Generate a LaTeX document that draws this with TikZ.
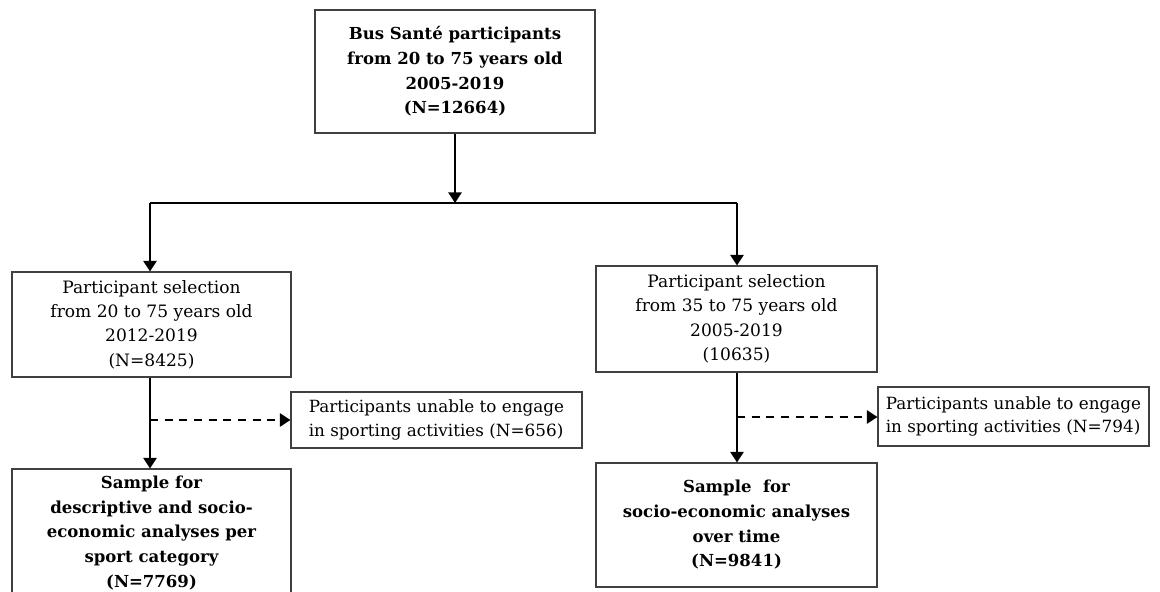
\documentclass[tikz,border=0pt]{standalone}
\usepackage{fontspec}
\setmainfont{DejaVu Serif}
\usetikzlibrary{arrows.meta}
\tikzset{
  box/.style={draw=black!75, line width=0.8pt, align=center, inner sep=0pt, font=\fontsize{12.8}{18.3}\selectfont},
  boldbox/.style={box, font=\fontsize{12.4}{18.5}\selectfont\bfseries},
  smallbox/.style={box, align=left, font=\fontsize{12.6}{17.5}\selectfont},
  conn/.style={line width=1.5pt, -{Triangle[length=8pt,width=10pt]}},
  dconn/.style={conn, dash pattern=on 6pt off 5pt},
  plain/.style={line width=1.5pt}
}
\begin{document}
\begin{tikzpicture}[x=0.75pt,y=-0.75pt]
\useasboundingbox (0,0) rectangle (1160,592);
\clip (0,0) rectangle (1160,592);
\node[boldbox, minimum width=210pt, minimum height=92.25pt] (top) at (455,71.5) {Bus Santé participants\\from 20 to 75 years old\\2005-2019\\(N=12664)};
\node[box, minimum width=209.25pt, minimum height=78.75pt] (lm) at (151.5,324.5) {Participant selection\\from 20 to 75 years old\\2012-2019\\(N=8425)};
\node[box, minimum width=210.75pt, minimum height=79.5pt] (rm) at (736.5,319) {Participant selection\\from 35 to 75 years old\\2005-2019\\(10635)};
\node[smallbox, minimum width=218.25pt, minimum height=42pt] (ls) at (436.5,420) {Participants unable to engage\\in sporting activities (N=656)};
\node[smallbox, minimum width=203.25pt, minimum height=44.25pt] (rs) at (1013.5,416.5) {Participants unable to engage\\in sporting activities (N=794)};
\node[boldbox, minimum width=209.25pt, minimum height=96pt] (lb) at (151.5,533) {Sample for\\descriptive and socio-\\economic analyses per\\sport category\\(N=7769)};
\node[boldbox, minimum width=210.75pt, minimum height=93pt] (rb) at (736.5,525) {Sample\ \ for\\socio-economic analyses\\over time\\(N=9841)};
\coordinate (j) at (455,203);
\coordinate (jl) at (150,203);
\coordinate (jr) at (737,203);
\coordinate (dl) at (150,420);
\coordinate (dr) at (737,417);
\draw[conn] (top.south) -- (j);
\draw[plain] (jl) -- (jr);
\draw[conn] (jl) -- (jl |- lm.north);
\draw[conn] (jr) -- (jr |- rm.north);
\draw[conn] (lm.south -| dl) -- (dl |- lb.north);
\draw[conn] (rm.south -| dr) -- (dr |- rb.north);
\draw[dconn] (dl) -- (ls.west |- dl);
\draw[dconn] (dr) -- (rs.west |- dr);
\end{tikzpicture}
\end{document}
